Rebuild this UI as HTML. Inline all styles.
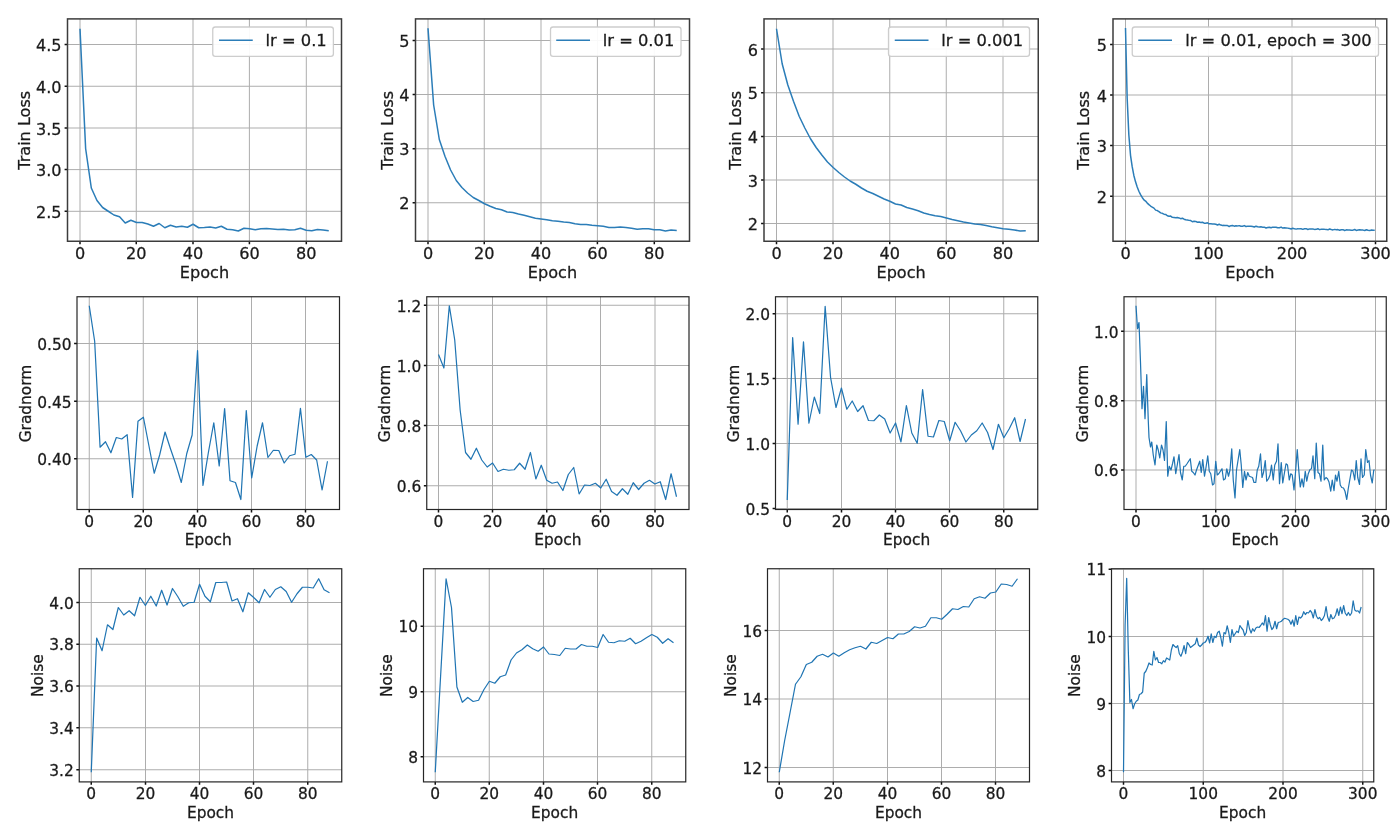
<!DOCTYPE html>
<html lang="en">
<head>
<meta charset="utf-8">
<title>Training curves</title>
<style>
html,body{margin:0;padding:0;background:#fff;}
body{width:1392px;height:824px;overflow:hidden;}
svg{display:block;will-change:transform;}
text{font-family:"DejaVu Sans","Liberation Sans",sans-serif;fill:#1a1a1a;stroke:#1a1a1a;stroke-width:0.28px;}
.g{stroke:#adadad;stroke-width:1.0;fill:none;}
.s{stroke:#3c3c3c;stroke-width:1.5;fill:none;}
.t{stroke:#111;stroke-width:1.5;fill:none;}
.c{stroke:#2b7db8;stroke-width:1.55;fill:none;stroke-linejoin:round;stroke-linecap:butt;}
.lg{fill:#fff;fill-opacity:0.93;stroke:#c8c8c8;stroke-opacity:0.9;stroke-width:1.3;}
</style>
</head>
<body>
<svg width="1392" height="824" viewBox="0 0 1392 824">
<rect x="0" y="0" width="1392" height="824" fill="#fff"/>
<g id="p11">
<path class="g" d="M80 18.9V241.25M136.25 18.9V241.25M193 18.9V241.25M249.4 18.9V241.25M306.3 18.9V241.25M67.5 44.5H341.5M67.5 86.25H341.5M67.5 128H341.5M67.5 169.6H341.5M67.5 211.3H341.5"/>
<polyline class="c" style="stroke:#2b7db8;stroke-width:1.5" points="80,28.75 85.65,148.75 91.31,188 96.96,200.5 102.61,207.5 108.27,211.25 113.92,215 119.57,216.75 125.23,223 130.88,220.25 136.53,222.5 142.19,222.5 147.84,224 153.49,226.25 159.15,223.5 164.8,227.75 170.45,225.25 176.11,227 181.76,226.25 187.41,227.25 193.07,224.25 198.72,227.75 204.38,227.5 210.03,227 215.68,228 221.34,226.25 226.99,229.25 232.64,229.75 238.3,231 243.95,228.25 249.6,228.75 255.26,229.75 260.91,228.75 266.56,228.5 272.22,229 277.87,229.5 283.52,229.25 289.18,230 294.83,229.75 300.48,228.25 306.14,230.25 311.79,230.75 317.44,229.5 323.1,230 328.75,230.75"/>
<path class="t" d="M80 241.25v2.9M136.25 241.25v2.9M193 241.25v2.9M249.4 241.25v2.9M306.3 241.25v2.9M67.5 44.5h-2.9M67.5 86.25h-2.9M67.5 128h-2.9M67.5 169.6h-2.9M67.5 211.3h-2.9"/>
<rect class="s" style="stroke:#3c3c3c;stroke-width:1.5" x="67.5" y="18.9" width="274" height="222.35"/>
<text x="80" y="259.1" font-size="16.1" text-anchor="middle">0</text>
<text x="136.25" y="259.1" font-size="16.1" text-anchor="middle">20</text>
<text x="193" y="259.1" font-size="16.1" text-anchor="middle">40</text>
<text x="249.4" y="259.1" font-size="16.1" text-anchor="middle">60</text>
<text x="306.3" y="259.1" font-size="16.1" text-anchor="middle">80</text>
<text x="61.5" y="51.18" font-size="16.1" text-anchor="end">4.5</text>
<text x="61.5" y="92.93" font-size="16.1" text-anchor="end">4.0</text>
<text x="61.5" y="134.68" font-size="16.1" text-anchor="end">3.5</text>
<text x="61.5" y="176.28" font-size="16.1" text-anchor="end">3.0</text>
<text x="61.5" y="217.98" font-size="16.1" text-anchor="end">2.5</text>
<text x="204.5" y="278.2" font-size="16.1" text-anchor="middle">Epoch</text>
<text transform="translate(29.65 130.3) rotate(-90)" font-size="16.1" text-anchor="middle">Train Loss</text>
<rect class="lg" x="212.75" y="27" width="120.65" height="29.3" rx="2.6" ry="2.6"/>
<path class="c" d="M219 40.25H252.75"/>
<text x="265.6" y="46.05" font-size="16.3">lr = 0.1</text>
</g>
<g id="p12">
<path class="g" d="M428 18.9V241.25M484.25 18.9V241.25M541 18.9V241.25M597.4 18.9V241.25M654.3 18.9V241.25M415.5 40.5H689.5M415.5 94.5H689.5M415.5 148.75H689.5M415.5 202.75H689.5"/>
<polyline class="c" style="stroke:#2b7db8;stroke-width:1.5" points="428,28.25 433.65,105 439.31,139.5 444.96,156.25 450.61,170 456.27,180.5 461.92,187.5 467.57,193 473.23,197.5 478.88,200.5 484.53,203.75 490.19,206.25 495.84,208.5 501.49,209.75 507.15,212 512.8,212.5 518.45,214 524.11,215.25 529.76,216.75 535.41,218.25 541.07,219 546.72,219.75 552.38,220.75 558.03,221.25 563.68,222 569.34,222.5 574.99,223.75 580.64,224.5 586.3,224.5 591.95,225.25 597.6,225.75 603.26,226.25 608.91,227.5 614.56,227.5 620.22,227 625.87,227.5 631.52,228.25 637.18,229.25 642.83,228.75 648.48,228.75 654.14,229.75 659.79,229.75 665.44,231 671.1,230 676.75,230.5"/>
<path class="t" d="M428 241.25v2.9M484.25 241.25v2.9M541 241.25v2.9M597.4 241.25v2.9M654.3 241.25v2.9M415.5 40.5h-2.9M415.5 94.5h-2.9M415.5 148.75h-2.9M415.5 202.75h-2.9"/>
<rect class="s" style="stroke:#3c3c3c;stroke-width:1.5" x="415.5" y="18.9" width="274" height="222.35"/>
<text x="428" y="259.1" font-size="16.1" text-anchor="middle">0</text>
<text x="484.25" y="259.1" font-size="16.1" text-anchor="middle">20</text>
<text x="541" y="259.1" font-size="16.1" text-anchor="middle">40</text>
<text x="597.4" y="259.1" font-size="16.1" text-anchor="middle">60</text>
<text x="654.3" y="259.1" font-size="16.1" text-anchor="middle">80</text>
<text x="409.5" y="47.18" font-size="16.1" text-anchor="end">5</text>
<text x="409.5" y="101.18" font-size="16.1" text-anchor="end">4</text>
<text x="409.5" y="155.43" font-size="16.1" text-anchor="end">3</text>
<text x="409.5" y="209.43" font-size="16.1" text-anchor="end">2</text>
<text x="552.5" y="278.2" font-size="16.1" text-anchor="middle">Epoch</text>
<text transform="translate(392.65 130.3) rotate(-90)" font-size="16.1" text-anchor="middle">Train Loss</text>
<rect class="lg" x="550.5" y="27" width="130.5" height="29.3" rx="2.6" ry="2.6"/>
<path class="c" d="M556.2 40.25H590"/>
<text x="602.8" y="46.05" font-size="16.3">lr = 0.01</text>
</g>
<g id="p13">
<path class="g" d="M776.5 18.9V241.25M833 18.9V241.25M889.75 18.9V241.25M946.25 18.9V241.25M1003 18.9V241.25M764 49H1038.25M764 92.75H1038.25M764 136.5H1038.25M764 180H1038.25M764 223.5H1038.25"/>
<polyline class="c" style="stroke:#2b7db8;stroke-width:1.5" points="776.5,28.75 782.16,63.75 787.83,85 793.49,101.25 799.16,116.25 804.82,128 810.49,138.75 816.15,147.5 821.82,155 827.48,162 833.15,167.5 838.81,172.5 844.48,177 850.14,181 855.81,184.25 861.47,188 867.14,191.25 872.8,193.5 878.47,196.25 884.13,199 889.8,201.25 895.46,204 901.12,205 906.79,207.5 912.45,209 918.12,210.75 923.78,213 929.45,214.5 935.11,215.75 940.78,216.5 946.44,218 952.11,219.5 957.77,220.75 963.44,222 969.1,223 974.77,224 980.43,224.5 986.1,225.5 991.76,226.75 997.43,227.75 1003.09,228.75 1008.76,229.25 1014.42,230 1020.09,231 1025.75,230.75"/>
<path class="t" d="M776.5 241.25v2.9M833 241.25v2.9M889.75 241.25v2.9M946.25 241.25v2.9M1003 241.25v2.9M764 49h-2.9M764 92.75h-2.9M764 136.5h-2.9M764 180h-2.9M764 223.5h-2.9"/>
<rect class="s" style="stroke:#3c3c3c;stroke-width:1.5" x="764" y="18.9" width="274.25" height="222.35"/>
<text x="776.5" y="259.1" font-size="16.1" text-anchor="middle">0</text>
<text x="833" y="259.1" font-size="16.1" text-anchor="middle">20</text>
<text x="889.75" y="259.1" font-size="16.1" text-anchor="middle">40</text>
<text x="946.25" y="259.1" font-size="16.1" text-anchor="middle">60</text>
<text x="1003" y="259.1" font-size="16.1" text-anchor="middle">80</text>
<text x="758" y="55.68" font-size="16.1" text-anchor="end">6</text>
<text x="758" y="99.43" font-size="16.1" text-anchor="end">5</text>
<text x="758" y="143.18" font-size="16.1" text-anchor="end">4</text>
<text x="758" y="186.68" font-size="16.1" text-anchor="end">3</text>
<text x="758" y="230.18" font-size="16.1" text-anchor="end">2</text>
<text x="901.12" y="278.2" font-size="16.1" text-anchor="middle">Epoch</text>
<text transform="translate(740.9 130.3) rotate(-90)" font-size="16.1" text-anchor="middle">Train Loss</text>
<rect class="lg" x="888.5" y="27" width="141" height="29.3" rx="2.6" ry="2.6"/>
<path class="c" d="M894.75 40.25H928.5"/>
<text x="941.3" y="46.05" font-size="16.3">lr = 0.001</text>
</g>
<g id="p14">
<path class="g" d="M1125.5 18.9V241.25M1208.5 18.9V241.25M1292 18.9V241.25M1375.5 18.9V241.25M1113 44.5H1386.75M1113 95H1386.75M1113 145.5H1386.75M1113 196.25H1386.75"/>
<polyline class="c" style="stroke:#2b7db8;stroke-width:1.5" points="1125.5,28 1127.17,98.41 1128.85,135.03 1130.52,155.3 1132.19,166.69 1133.86,175.48 1135.54,181.83 1137.21,187.09 1138.88,191.27 1140.56,194.62 1142.23,197.49 1143.9,199.84 1145.57,201.09 1147.25,203.08 1148.92,204.64 1150.59,206.01 1152.27,207.13 1153.94,208.14 1155.61,210.13 1157.28,210.52 1158.96,211.6 1160.63,212.87 1162.3,213.32 1163.97,214.16 1165.65,214.39 1167.32,215.76 1168.99,216.23 1170.67,216.1 1172.34,217.35 1174.01,217.54 1175.68,217.72 1177.36,217.54 1179.03,217.92 1180.7,218.66 1182.38,218.18 1184.05,219.19 1185.72,219.79 1187.39,220 1189.07,220.37 1190.74,220.57 1192.41,221.74 1194.09,221.24 1195.76,221.42 1197.43,222.24 1199.1,222.07 1200.78,222.41 1202.45,222.28 1204.12,223.15 1205.8,223.24 1207.47,222.82 1209.14,223.85 1210.81,223.77 1212.49,223.95 1214.16,223.93 1215.83,224.32 1217.51,225 1219.18,224.29 1220.85,225.08 1222.52,225.48 1224.2,225.37 1225.87,225.61 1227.54,225.62 1229.21,226.47 1230.89,225.69 1232.56,225.57 1234.23,226.16 1235.91,225.69 1237.58,225.88 1239.25,225.65 1240.92,226.27 1242.6,226.21 1244.27,225.6 1245.94,226.52 1247.62,226.3 1249.29,226.3 1250.96,226.27 1252.63,226.5 1254.31,227.02 1255.98,226.18 1257.65,226.82 1259.33,227.11 1261,226.86 1262.67,227.16 1264.34,227.18 1266.02,228.04 1267.69,227.51 1269.36,227.27 1271.04,227.81 1272.71,227.14 1274.38,227.33 1276.05,227.19 1277.73,227.74 1279.4,227.71 1281.07,227.1 1282.74,228.05 1284.42,227.85 1286.09,227.92 1287.76,228.12 1289.44,228.42 1291.11,229.05 1292.78,228.27 1294.45,228.85 1296.13,229.12 1297.8,228.66 1299.47,228.87 1301.15,228.74 1302.82,229.36 1304.49,228.75 1306.16,228.69 1307.84,229.48 1309.51,228.91 1311.18,229.06 1312.86,228.97 1314.53,229.39 1316.2,229.35 1317.87,228.7 1319.55,229.63 1321.22,229.36 1322.89,229.18 1324.57,229.31 1326.24,229.39 1327.91,229.82 1329.58,228.98 1331.26,229.56 1332.93,229.89 1334.6,229.38 1336.28,229.7 1337.95,229.62 1339.62,230.21 1341.29,229.69 1342.97,229.65 1344.64,230.48 1346.31,229.83 1347.98,229.94 1349.66,229.9 1351.33,230.2 1353,230.15 1354.68,229.47 1356.35,230.39 1358.02,230.1 1359.69,229.86 1361.37,230.09 1363.04,230.12 1364.71,230.52 1366.39,229.72 1368.06,230.29 1369.73,230.61 1371.4,229.96 1373.08,230.27 1374.75,230.15"/>
<path class="t" d="M1125.5 241.25v2.9M1208.5 241.25v2.9M1292 241.25v2.9M1375.5 241.25v2.9M1113 44.5h-2.9M1113 95h-2.9M1113 145.5h-2.9M1113 196.25h-2.9"/>
<rect class="s" style="stroke:#3c3c3c;stroke-width:1.5" x="1113" y="18.9" width="273.75" height="222.35"/>
<text x="1125.5" y="259.1" font-size="16.1" text-anchor="middle">0</text>
<text x="1208.5" y="259.1" font-size="16.1" text-anchor="middle">100</text>
<text x="1292" y="259.1" font-size="16.1" text-anchor="middle">200</text>
<text x="1375.5" y="259.1" font-size="16.1" text-anchor="middle">300</text>
<text x="1107" y="51.18" font-size="16.1" text-anchor="end">5</text>
<text x="1107" y="101.68" font-size="16.1" text-anchor="end">4</text>
<text x="1107" y="152.18" font-size="16.1" text-anchor="end">3</text>
<text x="1107" y="202.93" font-size="16.1" text-anchor="end">2</text>
<text x="1249.88" y="278.2" font-size="16.1" text-anchor="middle">Epoch</text>
<text transform="translate(1089.4 130.3) rotate(-90)" font-size="16.1" text-anchor="middle">Train Loss</text>
<rect class="lg" x="1132.25" y="27" width="246.25" height="29.3" rx="2.6" ry="2.6"/>
<path class="c" d="M1138.25 40.25H1172"/>
<text x="1185.2" y="46.05" font-size="16.3">lr = 0.01, epoch = 300</text>
</g>
<g id="p21">
<path class="g" d="M89.25 296.75V509.5M143.25 296.75V509.5M197.5 296.75V509.5M251.5 296.75V509.5M305.5 296.75V509.5M77 343.5H339.5M77 401.25H339.5M77 458.75H339.5"/>
<polyline class="c" style="stroke:#2075b3;stroke-width:1.22" points="89.25,305.75 94.66,341.25 100.08,447.25 105.49,441.75 110.91,452.75 116.32,437.5 121.74,439 127.15,434.75 132.57,497.5 137.98,421.25 143.4,417.25 148.81,445.25 154.23,473.25 159.64,455 165.06,432 170.47,448.75 175.89,464.5 181.3,482.5 186.72,453.75 192.13,435 197.55,350.5 202.96,485.5 208.38,452.5 213.79,422.75 219.2,466 224.62,408.5 230.03,480.75 235.45,482.5 240.86,499.5 246.28,410.5 251.69,478 257.11,446.25 262.52,422.75 267.94,457.5 273.35,450.25 278.77,450.5 284.18,463 289.6,455.75 295.01,454.25 300.43,408.25 305.84,457.25 311.26,454.5 316.67,460 322.09,490 327.5,461.25"/>
<path class="t" d="M89.25 509.5v2.9M143.25 509.5v2.9M197.5 509.5v2.9M251.5 509.5v2.9M305.5 509.5v2.9M77 343.5h-2.9M77 401.25h-2.9M77 458.75h-2.9"/>
<rect class="s" style="stroke:#262626;stroke-width:1.2" x="77" y="296.75" width="262.5" height="212.75"/>
<text x="89.25" y="526.6" font-size="15.4" text-anchor="middle">0</text>
<text x="143.25" y="526.6" font-size="15.4" text-anchor="middle">20</text>
<text x="197.5" y="526.6" font-size="15.4" text-anchor="middle">40</text>
<text x="251.5" y="526.6" font-size="15.4" text-anchor="middle">60</text>
<text x="305.5" y="526.6" font-size="15.4" text-anchor="middle">80</text>
<text x="71.5" y="349.82" font-size="15.4" text-anchor="end">0.50</text>
<text x="71.5" y="407.57" font-size="15.4" text-anchor="end">0.45</text>
<text x="71.5" y="465.07" font-size="15.4" text-anchor="end">0.40</text>
<text x="208.25" y="545" font-size="15.4" text-anchor="middle">Epoch</text>
<text transform="translate(30.99 403.5) rotate(-90)" font-size="15.4" text-anchor="middle">Gradnorm</text>
</g>
<g id="p22">
<path class="g" d="M438.5 296.75V509.5M492.5 296.75V509.5M546.75 296.75V509.5M600.5 296.75V509.5M655 296.75V509.5M426.75 305.25H689M426.75 365.5H689M426.75 425.5H689M426.75 485.75H689"/>
<polyline class="c" style="stroke:#2075b3;stroke-width:1.22" points="438.5,354.5 443.91,368 449.32,305.75 454.73,340 460.14,410 465.55,452.5 470.95,459.25 476.36,448.25 481.77,460 487.18,467 492.59,463 498,471.5 503.41,469.25 508.82,470.25 514.23,469.75 519.64,463.25 525.05,469.25 530.45,452.5 535.86,479 541.27,465.25 546.68,480.25 552.09,483.25 557.5,482 562.91,490.5 568.32,474.5 573.73,467.5 579.14,494 584.55,485 589.95,485.5 595.36,483.25 600.77,488 606.18,479.25 611.59,491.5 617,495.25 622.41,488.75 627.82,494.25 633.23,482.75 638.64,489.5 644.05,483.25 649.45,480.25 654.86,484 660.27,481.75 665.68,499.5 671.09,473.75 676.5,496.75"/>
<path class="t" d="M438.5 509.5v2.9M492.5 509.5v2.9M546.75 509.5v2.9M600.5 509.5v2.9M655 509.5v2.9M426.75 305.25h-2.9M426.75 365.5h-2.9M426.75 425.5h-2.9M426.75 485.75h-2.9"/>
<rect class="s" style="stroke:#262626;stroke-width:1.2" x="426.75" y="296.75" width="262.25" height="212.75"/>
<text x="438.5" y="526.6" font-size="15.4" text-anchor="middle">0</text>
<text x="492.5" y="526.6" font-size="15.4" text-anchor="middle">20</text>
<text x="546.75" y="526.6" font-size="15.4" text-anchor="middle">40</text>
<text x="600.5" y="526.6" font-size="15.4" text-anchor="middle">60</text>
<text x="655" y="526.6" font-size="15.4" text-anchor="middle">80</text>
<text x="421.25" y="311.57" font-size="15.4" text-anchor="end">1.2</text>
<text x="421.25" y="371.82" font-size="15.4" text-anchor="end">1.0</text>
<text x="421.25" y="431.82" font-size="15.4" text-anchor="end">0.8</text>
<text x="421.25" y="492.07" font-size="15.4" text-anchor="end">0.6</text>
<text x="557.88" y="545" font-size="15.4" text-anchor="middle">Epoch</text>
<text transform="translate(390.24 403.5) rotate(-90)" font-size="15.4" text-anchor="middle">Gradnorm</text>
</g>
<g id="p23">
<path class="g" d="M787.25 296.75V509.5M841.5 296.75V509.5M895.5 296.75V509.5M949.5 296.75V509.5M1003.75 296.75V509.5M775.5 313.75H1037.75M775.5 378.5H1037.75M775.5 443.5H1037.75M775.5 508.5H1037.75"/>
<polyline class="c" style="stroke:#2075b3;stroke-width:1.22" points="787.25,500 792.66,337.5 798.08,424.25 803.49,341.75 808.91,423.25 814.32,397 819.74,413.5 825.15,306.25 830.57,377.5 835.98,407.5 841.4,388 846.81,409.25 852.23,401 857.64,411.5 863.06,405.75 868.47,420.5 873.89,420.75 879.3,415 884.72,419 890.13,433 895.55,423 900.96,442 906.38,405.5 911.79,433 917.2,443.25 922.62,389.5 928.03,436.25 933.45,437 938.86,420.5 944.28,421.5 949.69,440.75 955.11,422.25 960.52,430.75 965.94,442 971.35,435 976.77,430.75 982.18,423 987.6,432.5 993.01,449.5 998.43,424.25 1003.84,437.75 1009.26,428.75 1014.67,417.75 1020.09,441.5 1025.5,419"/>
<path class="t" d="M787.25 509.5v2.9M841.5 509.5v2.9M895.5 509.5v2.9M949.5 509.5v2.9M1003.75 509.5v2.9M775.5 313.75h-2.9M775.5 378.5h-2.9M775.5 443.5h-2.9M775.5 508.5h-2.9"/>
<rect class="s" style="stroke:#262626;stroke-width:1.2" x="775.5" y="296.75" width="262.25" height="212.75"/>
<text x="787.25" y="526.6" font-size="15.4" text-anchor="middle">0</text>
<text x="841.5" y="526.6" font-size="15.4" text-anchor="middle">20</text>
<text x="895.5" y="526.6" font-size="15.4" text-anchor="middle">40</text>
<text x="949.5" y="526.6" font-size="15.4" text-anchor="middle">60</text>
<text x="1003.75" y="526.6" font-size="15.4" text-anchor="middle">80</text>
<text x="770" y="320.07" font-size="15.4" text-anchor="end">2.0</text>
<text x="770" y="384.82" font-size="15.4" text-anchor="end">1.5</text>
<text x="770" y="449.82" font-size="15.4" text-anchor="end">1.0</text>
<text x="770" y="514.82" font-size="15.4" text-anchor="end">0.5</text>
<text x="906.62" y="545" font-size="15.4" text-anchor="middle">Epoch</text>
<text transform="translate(738.99 403.5) rotate(-90)" font-size="15.4" text-anchor="middle">Gradnorm</text>
</g>
<g id="p24">
<path class="g" d="M1136 296.75V509.5M1215.75 296.75V509.5M1295.5 296.75V509.5M1375.5 296.75V509.5M1124 331.25H1386.25M1124 400.75H1386.25M1124 470H1386.25"/>
<polyline class="c" style="stroke:#2075b3;stroke-width:1.22" points="1136,305.75 1137.5,328.75 1139,322.5 1140.5,362.5 1142,408.75 1143.5,386.25 1145,418.75 1146.75,374.5 1148.25,420 1149,437.5 1150.5,447 1151.75,442 1153.25,455 1155,465 1156.75,445 1158.25,450 1159.75,458 1161.5,445 1163,450 1164.5,460.5 1166.25,421.5 1167.75,476.25 1169.25,466.25 1171,470 1172.5,463.75 1174,456.75 1175.75,473.75 1177.25,465 1179,454.5 1180.5,472.5 1182.25,480 1183.75,466.25 1185.25,466.25 1187,463.75 1190.25,458.75 1191.75,471.25 1193.25,472.5 1195,475 1196.5,470 1199.75,461.25 1201.25,472.5 1202.75,459.5 1204.5,476.25 1206,467.5 1207.75,455.75 1209.25,471.25 1210.75,473.75 1212.5,485 1214,483.75 1215.75,461.25 1217.25,475 1218.75,473.75 1222,468.75 1223.5,480 1225.25,478.75 1226.75,468.75 1228.5,476.25 1230,470 1231.75,448.75 1233.25,480 1235,498 1236.5,470 1239.75,449.5 1241.25,465 1242.75,487.5 1244.5,471.25 1246,480 1247.75,472.5 1249.25,476.25 1252.5,477.5 1254,482.5 1255.75,482.5 1257.25,470 1258.75,466.25 1260.5,453.75 1262,477.5 1263.5,472.5 1265.25,460.5 1266.75,481.25 1268.5,478.75 1270,475 1271.5,465 1273.25,480 1274.75,465 1276.5,461.25 1278,443.75 1279.5,483.75 1281.25,462.5 1282.75,483 1284.5,472.5 1286,463.75 1287.5,465 1289.25,480 1290.75,473.75 1292.25,475 1294,490 1295.5,472.5 1297.25,449.5 1298.75,470 1300.25,487 1302,478.75 1303.5,487 1305.25,471.25 1306.75,481.25 1308.25,473.75 1310,469.5 1311.5,468.75 1313,455.75 1314.75,478.75 1316.25,443 1318,472.5 1319.5,473.75 1321,481.25 1322.75,445 1324.25,480 1326,477.5 1327.5,478.75 1329,482 1330.75,491.25 1332.25,480 1334,490.75 1335.5,475 1337,481.25 1338.75,471.25 1340.25,485 1341.75,487.5 1343.5,488 1345,491.25 1346.75,499.5 1348.25,488.75 1351.5,470 1353,471.25 1354.75,480 1356.25,460.5 1357.75,477.5 1359.5,484.5 1361,458.75 1362.5,477.5 1364.25,475 1365.75,449.5 1367.5,462.5 1369,460.5 1370.5,475 1372.25,483 1373.75,470 1374.75,470"/>
<path class="t" d="M1136 509.5v2.9M1215.75 509.5v2.9M1295.5 509.5v2.9M1375.5 509.5v2.9M1124 331.25h-2.9M1124 400.75h-2.9M1124 470h-2.9"/>
<rect class="s" style="stroke:#262626;stroke-width:1.2" x="1124" y="296.75" width="262.25" height="212.75"/>
<text x="1136" y="526.6" font-size="15.4" text-anchor="middle">0</text>
<text x="1215.75" y="526.6" font-size="15.4" text-anchor="middle">100</text>
<text x="1295.5" y="526.6" font-size="15.4" text-anchor="middle">200</text>
<text x="1375.5" y="526.6" font-size="15.4" text-anchor="middle">300</text>
<text x="1118.5" y="337.57" font-size="15.4" text-anchor="end">1.0</text>
<text x="1118.5" y="407.07" font-size="15.4" text-anchor="end">0.8</text>
<text x="1118.5" y="476.32" font-size="15.4" text-anchor="end">0.6</text>
<text x="1255.12" y="545" font-size="15.4" text-anchor="middle">Epoch</text>
<text transform="translate(1087.99 403.5) rotate(-90)" font-size="15.4" text-anchor="middle">Gradnorm</text>
</g>
<g id="p31">
<path class="g" d="M91.25 568.75V781.9M145.5 568.75V781.9M199.5 568.75V781.9M253.5 568.75V781.9M307.75 568.75V781.9M79.25 602.5H341.75M79.25 644.25H341.75M79.25 686H341.75M79.25 727.75H341.75M79.25 769.75H341.75"/>
<polyline class="c" style="stroke:#2075b3;stroke-width:1.22" points="91.25,772.25 96.66,638 102.08,650.75 107.49,624.75 112.91,629.5 118.32,607.5 123.74,615 129.15,610.75 134.57,615.75 139.98,597.25 145.4,605.5 150.81,596.25 156.23,606 161.64,590.25 167.06,605 172.47,588.5 177.89,596.75 183.3,606.25 188.72,602.75 194.13,602.25 199.55,584.25 204.96,596.25 210.38,601.75 215.79,582.5 221.2,582.5 226.62,582 232.03,601 237.45,598.75 242.86,611.75 248.28,592.75 253.69,597.5 259.11,602.75 264.52,589.5 269.94,597.25 275.35,589.5 280.77,586.75 286.18,591.5 291.6,602.25 297.01,593.75 302.43,587.25 307.84,587.25 313.26,588 318.67,578.75 324.09,589.75 329.5,592.75"/>
<path class="t" d="M91.25 781.9v2.9M145.5 781.9v2.9M199.5 781.9v2.9M253.5 781.9v2.9M307.75 781.9v2.9M79.25 602.5h-2.9M79.25 644.25h-2.9M79.25 686h-2.9M79.25 727.75h-2.9M79.25 769.75h-2.9"/>
<rect class="s" style="stroke:#262626;stroke-width:1.2" x="79.25" y="568.75" width="262.5" height="213.15"/>
<text x="91.25" y="798.8" font-size="15.4" text-anchor="middle">0</text>
<text x="145.5" y="798.8" font-size="15.4" text-anchor="middle">20</text>
<text x="199.5" y="798.8" font-size="15.4" text-anchor="middle">40</text>
<text x="253.5" y="798.8" font-size="15.4" text-anchor="middle">60</text>
<text x="307.75" y="798.8" font-size="15.4" text-anchor="middle">80</text>
<text x="73.75" y="608.62" font-size="15.4" text-anchor="end">4.0</text>
<text x="73.75" y="650.37" font-size="15.4" text-anchor="end">3.8</text>
<text x="73.75" y="692.12" font-size="15.4" text-anchor="end">3.6</text>
<text x="73.75" y="733.87" font-size="15.4" text-anchor="end">3.4</text>
<text x="73.75" y="775.87" font-size="15.4" text-anchor="end">3.2</text>
<text x="210.5" y="817.55" font-size="15.4" text-anchor="middle">Epoch</text>
<text transform="translate(43.49 675.7) rotate(-90)" font-size="15.4" text-anchor="middle">Noise</text>
</g>
<g id="p32">
<path class="g" d="M435.25 568.75V781.9M489.25 568.75V781.9M543.5 568.75V781.9M597.5 568.75V781.9M651.75 568.75V781.9M423.5 626.25H685.75M423.5 691.75H685.75M423.5 756.75H685.75"/>
<polyline class="c" style="stroke:#2075b3;stroke-width:1.22" points="435.25,772.25 440.66,675 446.08,578.75 451.49,607.5 456.91,687 462.32,702.25 467.74,697.5 473.15,701.5 478.57,700.25 483.98,689.5 489.4,681.25 494.81,683.25 500.23,676.75 505.64,675 511.06,660 516.47,653 521.89,649.75 527.3,645 532.72,648.75 538.13,651.25 543.55,647 548.96,654 554.38,654.5 559.79,655.5 565.2,648.25 570.62,649 576.03,649 581.45,644.5 586.86,646.25 592.28,646.25 597.69,647.5 603.11,634.5 608.52,642.25 613.94,642.75 619.35,640.75 624.77,641.25 630.18,638.25 635.6,643.75 641.01,641.25 646.43,637.75 651.84,634.5 657.26,637.25 662.67,643.25 668.09,638.75 673.5,642.75"/>
<path class="t" d="M435.25 781.9v2.9M489.25 781.9v2.9M543.5 781.9v2.9M597.5 781.9v2.9M651.75 781.9v2.9M423.5 626.25h-2.9M423.5 691.75h-2.9M423.5 756.75h-2.9"/>
<rect class="s" style="stroke:#262626;stroke-width:1.2" x="423.5" y="568.75" width="262.25" height="213.15"/>
<text x="435.25" y="798.8" font-size="15.4" text-anchor="middle">0</text>
<text x="489.25" y="798.8" font-size="15.4" text-anchor="middle">20</text>
<text x="543.5" y="798.8" font-size="15.4" text-anchor="middle">40</text>
<text x="597.5" y="798.8" font-size="15.4" text-anchor="middle">60</text>
<text x="651.75" y="798.8" font-size="15.4" text-anchor="middle">80</text>
<text x="418" y="632.37" font-size="15.4" text-anchor="end">10</text>
<text x="418" y="697.87" font-size="15.4" text-anchor="end">9</text>
<text x="418" y="762.87" font-size="15.4" text-anchor="end">8</text>
<text x="554.62" y="817.55" font-size="15.4" text-anchor="middle">Epoch</text>
<text transform="translate(391.99 675.7) rotate(-90)" font-size="15.4" text-anchor="middle">Noise</text>
</g>
<g id="p33">
<path class="g" d="M779.25 568.75V781.9M833.25 568.75V781.9M887.5 568.75V781.9M941.5 568.75V781.9M995.5 568.75V781.9M767.5 630.5H1029.5M767.5 699H1029.5M767.5 767.5H1029.5"/>
<polyline class="c" style="stroke:#2075b3;stroke-width:1.22" points="779.25,772.25 784.66,740.5 790.08,712.5 795.49,684.25 800.91,676.75 806.32,664.5 811.74,662.25 817.15,656.25 822.57,654.25 827.98,657 833.4,653 838.81,656.25 844.23,652.75 849.64,649.75 855.06,647.75 860.47,646.25 865.89,649 871.3,642.25 876.72,643.5 882.13,640.5 887.55,637.5 892.96,638.75 898.38,634 903.79,634 909.2,631.5 914.62,626.75 920.03,628 925.45,626.25 930.86,617.75 936.28,617.75 941.69,619.25 947.11,614.25 952.52,608.75 957.94,609.5 963.35,606.5 968.77,607 974.18,598.75 979.6,596.75 985.01,598.25 990.43,593 995.84,592 1001.26,584 1006.67,584.5 1012.09,586.25 1017.5,578.75"/>
<path class="t" d="M779.25 781.9v2.9M833.25 781.9v2.9M887.5 781.9v2.9M941.5 781.9v2.9M995.5 781.9v2.9M767.5 630.5h-2.9M767.5 699h-2.9M767.5 767.5h-2.9"/>
<rect class="s" style="stroke:#262626;stroke-width:1.2" x="767.5" y="568.75" width="262" height="213.15"/>
<text x="779.25" y="798.8" font-size="15.4" text-anchor="middle">0</text>
<text x="833.25" y="798.8" font-size="15.4" text-anchor="middle">20</text>
<text x="887.5" y="798.8" font-size="15.4" text-anchor="middle">40</text>
<text x="941.5" y="798.8" font-size="15.4" text-anchor="middle">60</text>
<text x="995.5" y="798.8" font-size="15.4" text-anchor="middle">80</text>
<text x="762" y="636.62" font-size="15.4" text-anchor="end">16</text>
<text x="762" y="705.12" font-size="15.4" text-anchor="end">14</text>
<text x="762" y="773.62" font-size="15.4" text-anchor="end">12</text>
<text x="898.5" y="817.55" font-size="15.4" text-anchor="middle">Epoch</text>
<text transform="translate(736.49 675.7) rotate(-90)" font-size="15.4" text-anchor="middle">Noise</text>
</g>
<g id="p34">
<path class="g" d="M1123.5 568.75V781.9M1203.25 568.75V781.9M1283 568.75V781.9M1362.75 568.75V781.9M1111.5 569.25H1373.75M1111.5 636.5H1373.75M1111.5 703.5H1373.75M1111.5 770.5H1373.75"/>
<polyline class="c" style="stroke:#2075b3;stroke-width:1.22" points="1123.5,772.25 1125.1,625 1126.69,578.25 1128.29,650 1129.88,702.5 1131.47,699.5 1133.07,708.75 1134.66,703.75 1136.26,701.25 1137.86,700 1139.45,694.5 1141.05,693.75 1142.64,692 1144.23,673.25 1145.83,671.25 1147.42,667.5 1149.02,663 1150.62,664.5 1152.21,665 1153.81,651.25 1155.4,660 1156.99,657.5 1158.59,662.5 1160.18,662.5 1161.78,663.75 1163.38,660.75 1164.97,662 1166.57,658 1168.16,659 1169.76,660 1171.35,650 1172.94,644.5 1174.54,646.25 1176.13,647.5 1177.73,645.75 1179.33,653.75 1180.92,656.25 1182.51,652 1184.11,645.5 1185.7,653.75 1187.3,642.5 1188.89,644.5 1190.49,647.5 1192.09,646.25 1193.68,645 1195.28,643.75 1196.87,638 1198.46,645 1200.06,646.5 1201.65,645 1203.25,643 1204.85,642.5 1206.44,640.5 1208.04,636.25 1209.63,643 1211.22,633.75 1212.82,642.5 1214.41,636.25 1216.01,637.5 1217.61,632.5 1219.2,631.25 1220.8,637.5 1222.39,646.25 1223.99,632.5 1225.58,633.75 1227.17,625.75 1228.77,632.5 1230.37,642.5 1231.96,629.5 1233.56,636.25 1235.15,633.75 1236.74,631.25 1238.34,632.5 1239.93,625.5 1241.53,628 1243.12,630 1244.72,635.5 1246.32,632.5 1247.91,620.5 1249.51,628.75 1251.1,633 1252.69,628.75 1254.29,631.25 1255.88,628 1257.48,627 1259.08,627.5 1260.67,625.5 1262.26,623 1263.86,625 1265.45,615.5 1267.05,631.25 1268.64,617.5 1270.24,624.5 1271.84,629.5 1273.43,627.5 1275.03,621.25 1276.62,628.75 1278.21,622.5 1279.81,622 1281.4,621.25 1283,619.5 1284.6,618.25 1286.19,618.75 1287.79,619.25 1289.38,620.5 1290.97,624.25 1292.57,620 1294.16,626.25 1295.76,615.5 1297.36,624.5 1298.95,617 1300.55,618 1302.14,616.25 1303.74,611.75 1305.33,614.5 1306.92,612.5 1308.52,613 1310.12,610.5 1311.71,612.5 1313.31,618 1314.9,609.5 1316.49,616.25 1318.09,618.75 1319.68,617.5 1321.28,620.5 1322.88,618.75 1324.47,615.5 1326.07,606.5 1327.66,617 1329.26,621.25 1330.85,614.5 1332.44,618.75 1334.04,618 1335.63,615 1337.23,608.75 1338.83,615.5 1340.42,607 1342.01,613.75 1343.61,605.5 1345.2,613 1346.8,615.5 1348.39,612.5 1349.99,615.5 1351.59,613 1353.18,600.75 1354.78,610 1356.37,611.25 1357.97,610.75 1359.56,613 1361.15,607"/>
<path class="t" d="M1123.5 781.9v2.9M1203.25 781.9v2.9M1283 781.9v2.9M1362.75 781.9v2.9M1111.5 569.25h-2.9M1111.5 636.5h-2.9M1111.5 703.5h-2.9M1111.5 770.5h-2.9"/>
<rect class="s" style="stroke:#262626;stroke-width:1.2" x="1111.5" y="568.75" width="262.25" height="213.15"/>
<text x="1123.5" y="798.8" font-size="15.4" text-anchor="middle">0</text>
<text x="1203.25" y="798.8" font-size="15.4" text-anchor="middle">100</text>
<text x="1283" y="798.8" font-size="15.4" text-anchor="middle">200</text>
<text x="1362.75" y="798.8" font-size="15.4" text-anchor="middle">300</text>
<text x="1106" y="575.37" font-size="15.4" text-anchor="end">11</text>
<text x="1106" y="642.62" font-size="15.4" text-anchor="end">10</text>
<text x="1106" y="709.62" font-size="15.4" text-anchor="end">9</text>
<text x="1106" y="776.62" font-size="15.4" text-anchor="end">8</text>
<text x="1242.62" y="817.55" font-size="15.4" text-anchor="middle">Epoch</text>
<text transform="translate(1080.49 675.7) rotate(-90)" font-size="15.4" text-anchor="middle">Noise</text>
</g>
</svg>
</body>
</html>
